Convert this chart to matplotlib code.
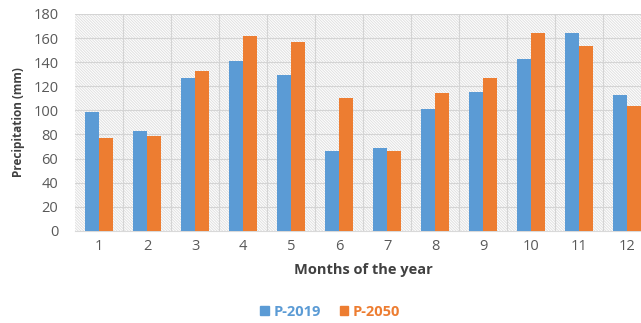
import numpy as np
import matplotlib
matplotlib.use("Agg")
import matplotlib.pyplot as plt
from matplotlib.patches import Patch, Rectangle

# Monthly precipitation (mm)
months = ["1", "2", "3", "4", "5", "6", "7", "8", "9", "10", "11", "12"]
p_2019 = [99, 83, 127, 141, 129, 66, 69, 101, 115, 143, 164, 113]
p_2050 = [77, 79, 133, 162, 157, 110, 66, 114, 127, 164, 153, 104]

blue = "#5B9BD5"
orange = "#ED7D31"

plt.rcParams["font.family"] = ["Open Sans", "DejaVu Sans"]
plt.rcParams["hatch.linewidth"] = 0.7

fig = plt.figure(figsize=(6.41, 3.23), dpi=100)
ax = fig.add_axes([0.117, 0.285, 0.899, 0.672])

# hatched plot area
ax.add_patch(Rectangle((0, 0), 1, 1, transform=ax.transAxes, facecolor="white",
                       edgecolor="#e0e0e0", lw=0, hatch="\\" * 12, zorder=0))

x = np.arange(len(months))
w = 0.29
ax.bar(x - w / 2, p_2019, w, color=blue, label="P-2019", zorder=3)
ax.bar(x + w / 2, p_2050, w, color=orange, label="P-2050", zorder=3)

ax.set_xlim(-0.5, len(months) - 0.5)
ax.set_ylim(0, 180)
ax.set_yticks(range(0, 181, 20))
ax.set_xticks(x)
ax.set_xticklabels(months)

# grid: horizontal at each tick, vertical between month groups
for yv in range(20, 181, 20):
    ax.axhline(yv, color="#d4d4d4", lw=0.8, zorder=1)
for xv in np.arange(0.5, len(months) - 0.5, 1):
    ax.axvline(xv, color="#d4d4d4", lw=0.8, zorder=1)

for s in ["top", "right", "left"]:
    ax.spines[s].set_visible(False)
ax.spines["bottom"].set_color("#d9d9d9")
ax.tick_params(axis="both", length=0, labelsize=10.5, colors="#595959")
ax.tick_params(axis="y", pad=12)
ax.tick_params(axis="x", pad=6)

ax.set_xlabel("Months of the year", fontsize=10.5, fontweight="bold",
              color="#404040", labelpad=6)
ax.set_ylabel("Precipitation (mm)", fontsize=8.5, fontweight="bold",
              color="#404040", labelpad=6)

handles = [Patch(color=blue, label="P-2019"), Patch(color=orange, label="P-2050")]
leg = fig.legend(handles=handles, loc="center", bbox_to_anchor=(0.515, 0.035),
                 ncol=2, frameon=False, handlelength=0.6, handleheight=0.6,
                 handletextpad=0.3, columnspacing=1.3,
                 prop={"weight": "bold", "size": 10.5})
for t, c in zip(leg.get_texts(), [blue, orange]):
    t.set_color(c)

fig.savefig("out.png", dpi=100)
